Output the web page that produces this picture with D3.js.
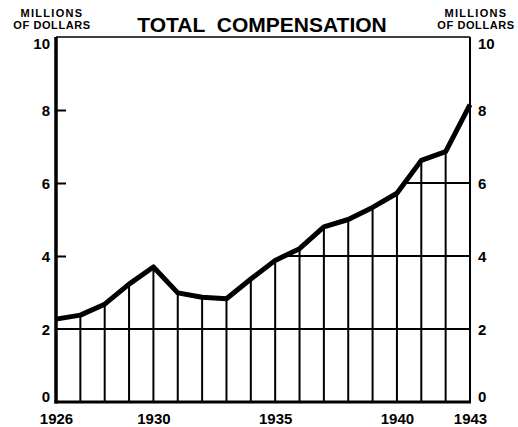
<!DOCTYPE html>
<html>
<head>
<meta charset="utf-8">
<script src="https://cdn.jsdelivr.net/npm/d3@7"></script>
<style>
  body { margin: 0; background: #fff; }
  svg text { font-family: "Liberation Sans", Arial, sans-serif; font-weight: bold; fill: #000; }
</style>
</head>
<body>
<svg id="svg" width="518" height="427"></svg>
<script>
// data (millions of dollars)
const years = [1926, 1927, 1928, 1929, 1930, 1931, 1932, 1933, 1934,
  1935, 1936, 1937, 1938, 1939, 1940, 1941, 1942, 1943]
const compensation = [2.27, 2.38, 2.68, 3.23, 3.7, 2.99, 2.87, 2.83, 3.37,
  3.88, 4.2, 4.8, 5.0, 5.33, 5.72, 6.62, 6.86, 8.15]
const yTicks = [0, 2, 4, 6, 8, 10]
const xTickLabels = [1926, 1930, 1935, 1940, 1943]
const title = 'TOTAL COMPENSATION'
const unitLines = ['MILLIONS', 'OF DOLLARS']

const data = years.map((yr, i) => ({ year: yr, value: compensation[i] }))

const margin = { top: 37, right: 48, bottom: 25, left: 56 }
const width = 518 - (margin.left + margin.right)
const height = 427 - (margin.top + margin.bottom)

const xscale = d3.scaleLinear()
  .domain([1926, 1943])
  .range([margin.left, margin.left + width])

const yscale = d3.scaleLinear()
  .domain([0, 10])
  .range([margin.top + height, margin.top])

const svg = d3.select('#svg')

// clip everything under the curve
const area = d3.area()
  .x(d => xscale(d.year))
  .y0(yscale(0))
  .y1(d => yscale(d.value))

svg.append('clipPath')
  .attr('id', 'under')
  .append('path')
  .attr('d', area(data))

const grid = svg.append('g').attr('clip-path', 'url(#under)')

// vertical hatching, one per year
grid.selectAll('line.v')
  .data(years.slice(1, -1))
  .enter()
  .append('line')
  .attr('class', 'v')
  .attr('x1', d => xscale(d))
  .attr('x2', d => xscale(d))
  .attr('y1', yscale(0))
  .attr('y2', yscale(10))
  .attr('stroke', '#000')
  .attr('stroke-width', 2)

// horizontal grid below the line
grid.selectAll('line.h')
  .data([2, 4, 6, 8])
  .enter()
  .append('line')
  .attr('class', 'h')
  .attr('x1', xscale(1926))
  .attr('x2', xscale(1943))
  .attr('y1', d => yscale(d))
  .attr('y2', d => yscale(d))
  .attr('stroke', '#000')
  .attr('stroke-width', 2)

// frame
svg.append('line')
  .attr('x1', xscale(1926)).attr('x2', xscale(1943))
  .attr('y1', yscale(10)).attr('y2', yscale(10))
  .attr('stroke', '#000').attr('stroke-width', 1.5)
svg.append('line')
  .attr('x1', xscale(1943)).attr('x2', xscale(1943))
  .attr('y1', yscale(10)).attr('y2', yscale(0))
  .attr('stroke', '#000').attr('stroke-width', 2)
svg.append('line')
  .attr('x1', xscale(1926)).attr('x2', xscale(1926))
  .attr('y1', yscale(10)).attr('y2', yscale(0) + 1.5)
  .attr('stroke', '#000').attr('stroke-width', 3.5)
svg.append('line')
  .attr('x1', xscale(1926) - 1.5).attr('x2', xscale(1943) + 1)
  .attr('y1', yscale(0)).attr('y2', yscale(0))
  .attr('stroke', '#000').attr('stroke-width', 3)

// small inward ticks on the left axis
const innerTicks = d3.axisRight(yscale)
  .tickValues([4, 6, 8])
  .tickSize(10)
  .tickFormat('')
svg.append('g')
  .attr('transform', `translate(${xscale(1926)}, 0)`)
  .call(innerTicks)
  .call(g => g.select('.domain').remove())
  .call(g => g.selectAll('line').attr('stroke-width', 2))

// the curve
const line = d3.line()
  .x(d => xscale(d.year))
  .y(d => yscale(d.value))

svg.append('path')
  .datum(data)
  .attr('d', line)
  .attr('fill', 'none')
  .attr('stroke', '#000')
  .attr('stroke-width', 5)
  .attr('stroke-linejoin', 'round')

// y labels both sides
const labelDy = d => d === 0 ? '-0.05em' : (d === 10 ? '0.75em' : '0.35em')

const leftAxis = d3.axisLeft(yscale)
  .tickValues(yTicks)
  .tickSize(0)
  .tickPadding(6)
svg.append('g')
  .attr('transform', `translate(${xscale(1926)}, 0)`)
  .call(leftAxis)
  .call(g => g.select('.domain').remove())
  .call(g => g.selectAll('text')
    .attr('dy', labelDy)
    .style('font-size', '15px'))

const rightAxis = d3.axisRight(yscale)
  .tickValues(yTicks)
  .tickSize(0)
  .tickPadding(8)
svg.append('g')
  .attr('transform', `translate(${xscale(1943)}, 0)`)
  .call(rightAxis)
  .call(g => g.select('.domain').remove())
  .call(g => g.selectAll('text')
    .attr('dy', labelDy)
    .style('font-size', '15px'))

// year labels
const bottomAxis = d3.axisBottom(xscale)
  .tickValues(xTickLabels)
  .tickFormat(d3.format('d'))
  .tickSize(0)
  .tickPadding(11)
svg.append('g')
  .attr('transform', `translate(0, ${yscale(0)})`)
  .call(bottomAxis)
  .call(g => g.select('.domain').remove())
  .call(g => g.selectAll('text').style('font-size', '15px'))

// titles
svg.append('text')
  .attr('x', 262)
  .attr('y', 32)
  .attr('text-anchor', 'middle')
  .style('font-size', '21px')
  .style('word-spacing', '6px')
  .text(title)

const unitSpacing = ['1.3px', '0.6px']
;[52, 476].forEach(cx => {
  svg.append('text')
    .attr('text-anchor', 'middle')
    .style('font-size', '11px')
    .selectAll('tspan')
    .data(unitLines)
    .enter()
    .append('tspan')
    .attr('x', cx)
    .attr('y', (d, i) => 17 + i * 12)
    .style('letter-spacing', (d, i) => unitSpacing[i])
    .text(d => d)
})
</script>
</body>
</html>
